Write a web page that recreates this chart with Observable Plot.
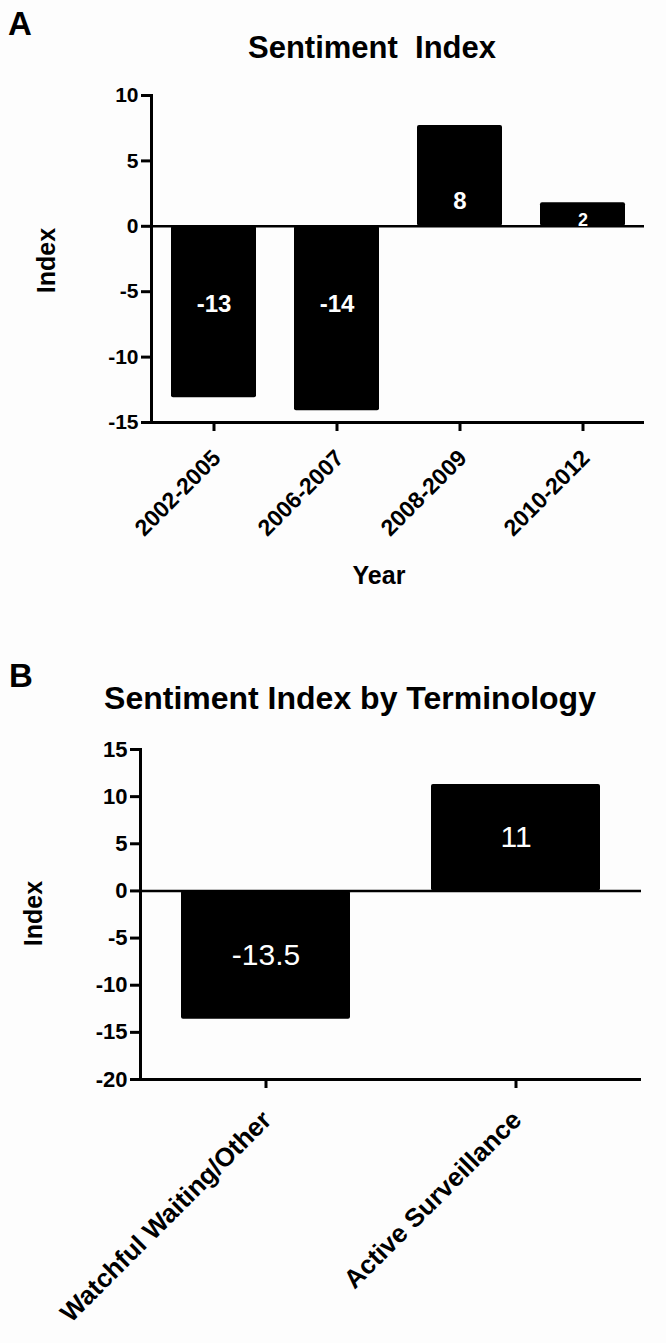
<!DOCTYPE html>
<html>
<head>
<meta charset="utf-8">
<script src="https://cdn.jsdelivr.net/npm/d3@7"></script>
<script src="https://cdn.jsdelivr.net/npm/@observablehq/plot@0.6"></script>
<style>
  html, body { margin: 0; padding: 0; background: #fdfdfd; }
  #wrap { position: relative; width: 666px; height: 1343px; overflow: hidden;
          font-family: "Liberation Sans", Arial, sans-serif; color: #000; }
  .t { position: absolute; font-weight: bold; white-space: pre; line-height: 1; }
  .c { text-align: center; }
  .rot { transform: rotate(-90deg); transform-origin: 50% 50%; }
  .panel { position: absolute; left: 0; }
</style>
</head>
<body>
<div id="wrap">
  <div class="t" style="left:8px;top:7px;font-size:33px;">A</div>
  <div class="t c" style="left:72px;top:32px;width:600px;font-size:31px;">Sentiment  Index</div>
  <div class="t c rot" style="left:-54px;top:248px;width:200px;font-size:25px;">Index</div>
  <div class="t c" style="left:279px;top:563px;width:200px;font-size:25px;">Year</div>
  <div id="pa" class="panel" style="top:0px;"></div>

  <div class="t" style="left:9px;top:659px;font-size:33px;">B</div>
  <div class="t c" style="left:50px;top:682px;width:600px;font-size:32px;">Sentiment Index by Terminology</div>
  <div class="t c rot" style="left:-67px;top:901px;width:200px;font-size:25px;">Index</div>
  <div id="pb" class="panel" style="top:720px;"></div>
</div>
<script>
// ---- Panel A data ----
const yearsA = ["2002-2005", "2006-2007", "2008-2009", "2010-2012"];
const valuesA = [-13.1, -14.1, 7.7, 1.8];
const labelsA = ["-13", "-14", "8", "2"];
const yTicksA = [-15, -10, -5, 0, 5, 10];

// ---- Panel B data ----
const termsB = ["Watchful Waiting/Other", "Active Surveillance"];
const valuesB = [-13.6, 11.3];
const labelsB = ["-13.5", "11"];
const yTicksB = [-20, -15, -10, -5, 0, 5, 10, 15];

const dataA = yearsA.map((c, i) => ({cat: c, value: valuesA[i], label: labelsA[i]}));
const dataB = termsB.map((c, i) => ({cat: c, value: valuesB[i], label: labelsB[i]}));

const baseStyle = {fontFamily: "Liberation Sans, Arial, sans-serif", background: "transparent", overflow: "visible", color: "#000"};

function panel({cats, data, yDomain, yTicks, width, height, mt, mb, ml, mr, padIn,
                yFont, xFont, xdx, xdy, labelY, labelWeight, labelSize}) {
  const frameW = width - ml - mr;
  const frameH = height - mt - mb;
  return Plot.plot({
    width, height,
    marginTop: mt, marginBottom: mb, marginLeft: ml, marginRight: mr,
    style: baseStyle,
    x: {type: "band", domain: cats, paddingInner: padIn, paddingOuter: padIn / 2, axis: null},
    y: {domain: yDomain, axis: null},
    marks: [
      Plot.barY(data, {x: "cat", y: "value", fill: "#000", rx: 2}),
      // zero line
      Plot.ruleY([0], {stroke: "#000", strokeWidth: 2.5}),
      // axis lines
      Plot.frame({anchor: "left", stroke: "#000", strokeWidth: 3}),
      Plot.ruleY([yDomain[0]], {stroke: "#000", strokeWidth: 3, insetLeft: -1.5}),
      // y ticks + labels
      Plot.ruleY(yTicks, {stroke: "#000", strokeWidth: 3, insetLeft: -10, insetRight: frameW}),
      Plot.text(yTicks, {y: d => d, text: d => String(d), frameAnchor: "left", textAnchor: "end",
                         dx: -13, fontSize: yFont, fontWeight: "bold", fill: "#000"}),
      // x ticks + rotated labels
      Plot.ruleX(cats, {x: d => d, stroke: "#000", strokeWidth: 3, insetTop: frameH, insetBottom: -9}),
      Plot.text(cats, {x: d => d, text: d => d, frameAnchor: "bottom", textAnchor: "end",
                       rotate: -45, dx: xdx, dy: xdy, fontSize: xFont, fontWeight: "bold", fill: "#000"}),
      // value labels on bars
      Plot.text(data, {x: "cat", y: labelY, text: "label", fill: "#fff",
                       fontWeight: labelWeight, fontSize: labelSize})
    ]
  });
}

const plotA = panel({
  cats: yearsA, data: dataA, yDomain: [-15, 10], yTicks: yTicksA,
  width: 666, height: 620, mt: 95, mb: 198, ml: 151, mr: 22, padIn: 0.31,
  yFont: 21, xFont: 23, xdx: 8, xdy: 37,
  labelY: d => d.value < 0 ? -6 : d.value / 4,
  labelWeight: "bold", labelSize: d => Math.abs(d.value) < 4 ? 18 : 24
});
document.getElementById("pa").appendChild(plotA);

const plotB = panel({
  cats: termsB, data: dataB, yDomain: [-20, 15], yTicks: yTicksB,
  width: 666, height: 623, mt: 29, mb: 264, ml: 140, mr: 25, padIn: 0.325,
  yFont: 22, xFont: 26, xdx: 7, xdy: 42,
  labelY: d => d.value / 2,
  labelWeight: "normal", labelSize: 30
});
document.getElementById("pb").appendChild(plotB);
</script>
</body>
</html>
